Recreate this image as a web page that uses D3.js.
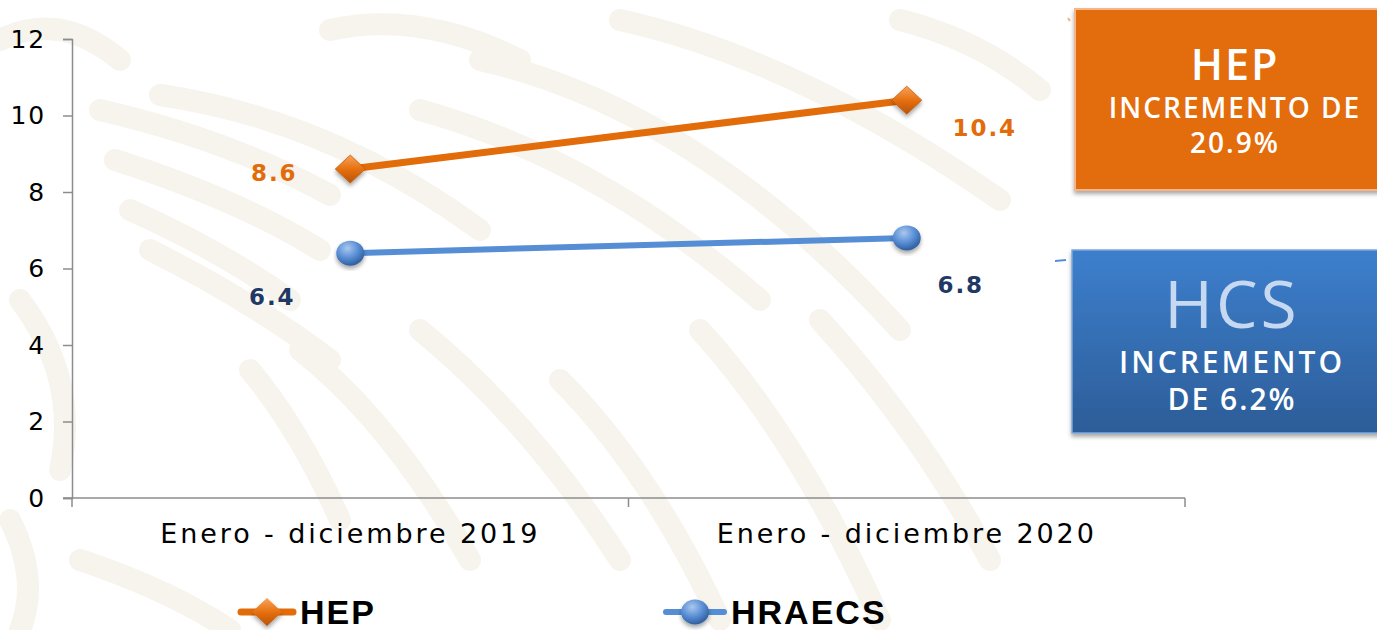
<html>
    <head>
        <title>HEP vs HRAECS</title>
        <script src="https://d3js.org/d3.v7.min.js"></script>
        <style>
            body { margin: 0; background: white; }
            .axis path, .axis line { stroke: #8c8c8c; stroke-width: 1.5; }
            .axis text { font-family: "DejaVu Sans", sans-serif; fill: black; }
        </style>
    </head>
    <body>
        <svg id="chart" width="1377" height="630"></svg>

        <script>
            // data
            const categories = ["Enero - diciembre 2019", "Enero - diciembre 2020"];
            const hepValues = [8.6, 10.4];
            const hcsValues = [6.4, 6.8];
            const yTicks = [0, 2, 4, 6, 8, 10, 12];
            const seriesNames = ["HEP", "HRAECS"];
            const hepBox = ["HEP", "INCREMENTO DE", "20.9%"];
            const hcsBox = ["HCS", "INCREMENTO", "DE 6.2%"];

            const svg = d3.select("#chart");
            const width = +svg.attr("width");
            const height = +svg.attr("height");
            const margin = {top: 39, right: 192, bottom: 132, left: 72};

            const orange = "#e36c0a";
            const blue = "#558ed5";
            const navy = "#1f3864";

            // gradients
            const defs = svg.append("defs");
            const dg = defs.append("linearGradient").attr("id", "diamondGrad")
                .attr("x1", 0).attr("y1", 0).attr("x2", 0).attr("y2", 1);
            dg.append("stop").attr("offset", "0%").attr("stop-color", "#f9a25a");
            dg.append("stop").attr("offset", "55%").attr("stop-color", "#e36c0a");
            dg.append("stop").attr("offset", "100%").attr("stop-color", "#b5550b");

            const cg = defs.append("radialGradient").attr("id", "circleGrad")
                .attr("cx", "40%").attr("cy", "30%").attr("r", "70%");
            cg.append("stop").attr("offset", "0%").attr("stop-color", "#a9c8ee");
            cg.append("stop").attr("offset", "55%").attr("stop-color", "#5b8fd6");
            cg.append("stop").attr("offset", "100%").attr("stop-color", "#2f5f9e");

            const bg = defs.append("linearGradient").attr("id", "blueBox")
                .attr("x1", 0).attr("y1", 0).attr("x2", 0).attr("y2", 1);
            bg.append("stop").attr("offset", "0%").attr("stop-color", "#3d7fcd");
            bg.append("stop").attr("offset", "100%").attr("stop-color", "#2c5d98");

            const shadow = defs.append("filter").attr("id", "shadow")
                .attr("x", "-10%").attr("y", "-10%").attr("width", "130%").attr("height", "130%");
            shadow.append("feDropShadow").attr("dx", 0).attr("dy", 3).attr("stdDeviation", 2)
                .attr("flood-color", "#000").attr("flood-opacity", 0.35);

            // faint watermark in the background
            const bgMarks = [
                "M 0 40 Q 60 10 120 60",
                "M 100 110 Q 230 140 330 195",
                "M 115 160 Q 240 200 320 250",
                "M 130 210 Q 220 250 290 300",
                "M 150 250 Q 250 300 330 360",
                "M 160 95 Q 330 120 480 230",
                "M 330 30 Q 420 10 520 60",
                "M 420 110 Q 600 160 760 300",
                "M 480 60 Q 700 110 900 330",
                "M 620 20 Q 800 60 1000 200",
                "M 250 370 Q 300 430 340 520",
                "M 300 350 Q 390 420 470 560",
                "M 420 330 Q 530 420 620 560",
                "M 560 380 Q 650 470 720 620",
                "M 700 330 Q 800 440 880 620",
                "M 820 320 Q 920 430 990 560",
                "M 20 300 Q 80 380 60 470",
                "M 80 560 Q 170 590 230 630",
                "M 10 520 Q 40 580 20 630",
                "M 900 20 Q 980 40 1040 90"
            ];
            svg.append("g").selectAll("path").data(bgMarks).join("path")
                .attr("d", d => d)
                .attr("fill", "none")
                .attr("stroke", "#f7f4ee")
                .attr("stroke-width", 22)
                .attr("stroke-linecap", "round");

            // scales
            const xScale = d3.scaleBand()
                .domain(categories)
                .range([margin.left, width - margin.right]);

            const yScale = d3.scaleLinear()
                .domain([0, 12])
                .range([height - margin.bottom, margin.top]);

            const xPos = d => xScale(d) + xScale.bandwidth() / 2;

            // axes
            const leftAxis = d3.axisLeft(yScale).tickValues(yTicks).tickSize(9).tickPadding(17);
            svg.append("g")
                .attr("class", "y axis")
                .attr("transform", `translate(${margin.left},0)`)
                .call(leftAxis)
                .call(g => g.selectAll("text").attr("font-size", 25).attr("letter-spacing", 1.8));

            const bottomAxis = d3.axisBottom(xScale).tickSize(0).tickPadding(0);
            const xAxis = svg.append("g")
                .attr("class", "x axis")
                .attr("transform", `translate(0,${height - margin.bottom})`)
                .call(bottomAxis);
            xAxis.select(".domain").attr("d", `M${margin.left - 9},0H${width - margin.right}`);
            xAxis.selectAll(".tick line").remove();
            xAxis.selectAll(".tick text")
                .attr("y", 45)
                .attr("font-size", 27)
                .attr("letter-spacing", 2.9)
                .attr("dy", 0);
            // tick separators between categories
            const sepTicks = categories.map(c => xScale(c)).concat([xScale.range()[1]]);
            xAxis.selectAll("line.sep").data(sepTicks).join("line")
                .attr("class", "sep")
                .attr("x1", d => d).attr("x2", d => d)
                .attr("y1", 0).attr("y2", 9);

            // lines
            const line = d3.line().x(d => xPos(d.cat)).y(d => yScale(d.v));
            const hepData = categories.map((c, i) => ({cat: c, v: hepValues[i]}));
            const hcsData = categories.map((c, i) => ({cat: c, v: hcsValues[i]}));

            svg.append("path").datum(hepData)
                .attr("d", line)
                .attr("fill", "none")
                .attr("stroke", orange)
                .attr("stroke-width", 7);

            svg.append("path").datum(hcsData)
                .attr("d", line)
                .attr("fill", "none")
                .attr("stroke", blue)
                .attr("stroke-width", 6);

            const diamond = (cx, cy) => `M${cx - 15},${cy} L${cx},${cy - 14} L${cx + 15},${cy} L${cx},${cy + 14} Z`;

            svg.append("g").selectAll("path").data(hepData).join("path")
                .attr("d", d => diamond(xPos(d.cat), yScale(d.v)))
                .attr("fill", "url(#diamondGrad)")
                .attr("stroke", "#c65c0c")
                .attr("stroke-width", 0.8)
                .attr("filter", "url(#shadow)");

            svg.append("g").selectAll("ellipse").data(hcsData).join("ellipse")
                .attr("cx", d => xPos(d.cat))
                .attr("cy", d => yScale(d.v))
                .attr("rx", 14)
                .attr("ry", 12.5)
                .attr("fill", "url(#circleGrad)")
                .attr("filter", "url(#shadow)");

            // value labels
            const hepOffsets = [[-76, 12], [78, 36]];
            const hcsOffsets = [[-78, 52], [54, 55]];
            const labelFont = g => g
                .attr("font-family", "DejaVu Sans, sans-serif")
                .attr("font-weight", "bold")
                .attr("font-size", 23)
                .attr("letter-spacing", 2)
                .attr("text-anchor", "middle");

            svg.append("g").selectAll("text").data(hepData).join("text")
                .call(labelFont)
                .attr("fill", orange)
                .attr("x", (d, i) => xPos(d.cat) + hepOffsets[i][0])
                .attr("y", (d, i) => yScale(d.v) + hepOffsets[i][1])
                .text(d => d.v.toFixed(1));

            svg.append("g").selectAll("text").data(hcsData).join("text")
                .call(labelFont)
                .attr("fill", navy)
                .attr("x", (d, i) => xPos(d.cat) + hcsOffsets[i][0])
                .attr("y", (d, i) => yScale(d.v) + hcsOffsets[i][1])
                .text(d => d.v.toFixed(1));

            // legend
            const legend = svg.append("g");
            const legendItems = [
                {name: seriesNames[0], x: 241, len: 52, tx: 300, color: orange, w: 7},
                {name: seriesNames[1], x: 666, len: 58, tx: 731, color: blue, w: 6}
            ];
            legendItems.forEach((item, i) => {
                legend.append("line")
                    .attr("x1", item.x).attr("x2", item.x + item.len)
                    .attr("y1", 612).attr("y2", 612)
                    .attr("stroke", item.color)
                    .attr("stroke-width", item.w)
                    .attr("stroke-linecap", "round");
                if (i === 0) {
                    legend.append("path")
                        .attr("d", diamond(item.x + 26, 612))
                        .attr("fill", "url(#diamondGrad)")
                        .attr("filter", "url(#shadow)");
                } else {
                    legend.append("ellipse")
                        .attr("cx", item.x + 29).attr("cy", 612)
                        .attr("rx", 14).attr("ry", 12.5)
                        .attr("fill", "url(#circleGrad)")
                        .attr("filter", "url(#shadow)");
                }
                legend.append("text")
                    .attr("x", item.tx)
                    .attr("y", 624)
                    .attr("font-family", "Liberation Sans, Arial, sans-serif")
                    .attr("font-weight", "bold")
                    .attr("font-size", 34)
                    .attr("letter-spacing", 2)
                    .text(item.name);
            });

            // callout boxes
            const boxes = svg.append("g");
            boxes.append("line")
                .attr("x1", 1068).attr("x2", 1070).attr("y1", 18).attr("y2", 21)
                .attr("stroke", "#f4b183").attr("stroke-width", 2);
            boxes.append("rect")
                .attr("x", 1075).attr("y", 9)
                .attr("width", 330).attr("height", 181)
                .attr("fill", orange)
                .attr("stroke", "#f6b68a").attr("stroke-width", 2)
                .attr("filter", "url(#shadow)");

            const boxFont = "Open Sans, sans-serif";
            const hepLines = [
                {t: hepBox[0], y: 80, s: 43, w: 600, ls: 2},
                {t: hepBox[1], y: 118, s: 28, w: 600, ls: 2},
                {t: hepBox[2], y: 153, s: 28, w: 600, ls: 2}
            ];
            boxes.selectAll("text.hep").data(hepLines).join("text")
                .attr("class", "hep")
                .attr("x", 1235).attr("y", d => d.y)
                .attr("text-anchor", "middle")
                .attr("font-family", boxFont)
                .attr("font-size", d => d.s)
                .attr("font-weight", d => d.w)
                .attr("letter-spacing", d => d.ls)
                .attr("fill", "white")
                .text(d => d.t);

            boxes.append("line")
                .attr("x1", 1055).attr("x2", 1066).attr("y1", 261).attr("y2", 260)
                .attr("stroke", blue).attr("stroke-width", 2);
            boxes.append("rect")
                .attr("x", 1072).attr("y", 250)
                .attr("width", 330).attr("height", 183)
                .attr("fill", "url(#blueBox)")
                .attr("stroke", "#7ea8dc").attr("stroke-width", 1.5)
                .attr("filter", "url(#shadow)");

            const hcsLines = [
                {t: hcsBox[0], y: 328, s: 66, w: 500, c: "#c6d9f1", ls: 3},
                {t: hcsBox[1], y: 373, s: 30, w: 600, c: "white", ls: 3},
                {t: hcsBox[2], y: 410, s: 30, w: 600, c: "white", ls: 2}
            ];
            boxes.selectAll("text.hcs").data(hcsLines).join("text")
                .attr("class", "hcs")
                .attr("x", 1232).attr("y", d => d.y)
                .attr("text-anchor", "middle")
                .attr("font-family", boxFont)
                .attr("font-size", d => d.s)
                .attr("font-weight", d => d.w)
                .attr("letter-spacing", d => d.ls)
                .attr("fill", d => d.c)
                .text(d => d.t);
        </script>
    </body>
</html>
